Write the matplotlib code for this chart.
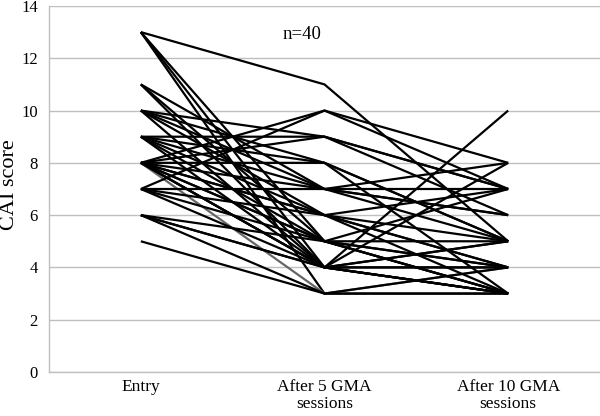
import matplotlib
matplotlib.use("Agg")
import matplotlib.pyplot as plt

# time points
STAGES = ["Entry", "After 5 GMA\nsessions", "After 10 GMA\nsessions"]

# CAI score per patient (n=40) at each stage
entry = [13, 13, 13, 13, 11, 11, 10, 10, 10, 10,
         9, 9, 9, 9, 9, 8, 8, 8, 8, 8,
         8, 8, 8, 8, 8, 7, 7, 7, 7, 7,
         6, 6, 6, 6, 5, 9, 10, 8, 8, 11]
after5 = [11, 4, 5, 3, 7, 5, 9, 6, 4, 8,
          9, 7, 5, 6, 4, 10, 8, 7, 6, 5,
          4, 3, 9, 5, 4, 10, 6, 5, 4, 7,
          5, 4, 3, 4, 3, 8, 7, 6, 4, 4]
after10 = [5, 3, 4, 3, 5, 4, 7, 4, 3, 5,
           7, 6, 3, 5, 4, 7, 5, 8, 4, 3,
           3, 4, 6, 7, 5, 8, 3, 5, 4, 7,
           3, 5, 3, 8, 4, 3, 6, 7, 10, 3]
# patients drawn in grey instead of black
grey_ids = [21]

YTICKS = list(range(0, 15, 2))

plt.rcParams["font.family"] = ["Liberation Serif", "DejaVu Serif"]

fig = plt.figure(figsize=(6.0, 4.16), dpi=100)
ax = fig.add_axes([0.0817, 0.1058, 0.9183, 0.8798])

xs = list(range(len(STAGES)))
for i, (a, b, c) in enumerate(zip(entry, after5, after10)):
    col = "#666666" if i in grey_ids else "black"
    ax.plot(xs, [a, b, c], color=col, lw=1.6, solid_capstyle="butt", zorder=3)

ax.set_xlim(-0.5, 2.5)
ax.set_ylim(0, 14)
ax.set_yticks(YTICKS)
ax.set_xticks(xs)
ax.set_xticklabels(STAGES, fontsize=12.5, linespacing=1.1)
ax.tick_params(axis="y", length=0, pad=8, labelsize=12)
ax.tick_params(axis="x", length=0, pad=5)
ax.grid(axis="y", color="#bfbfbf", lw=1.0, zorder=0)
ax.set_axisbelow(True)

for s in ["top", "right"]:
    ax.spines[s].set_visible(False)
ax.spines["left"].set_color("#bfbfbf")
ax.spines["bottom"].set_color("#bfbfbf")
ax.spines["left"].set_linewidth(1.0)
ax.spines["bottom"].set_linewidth(1.0)

fig.text(10 / 600, 1 - 185 / 416, "CAI score", fontsize=16, rotation=90,
         ha="center", va="center")
ax.text(0.876, 12.9, "n=40", fontsize=13.5, ha="center", va="center")

fig.savefig("out.png", dpi=100)
